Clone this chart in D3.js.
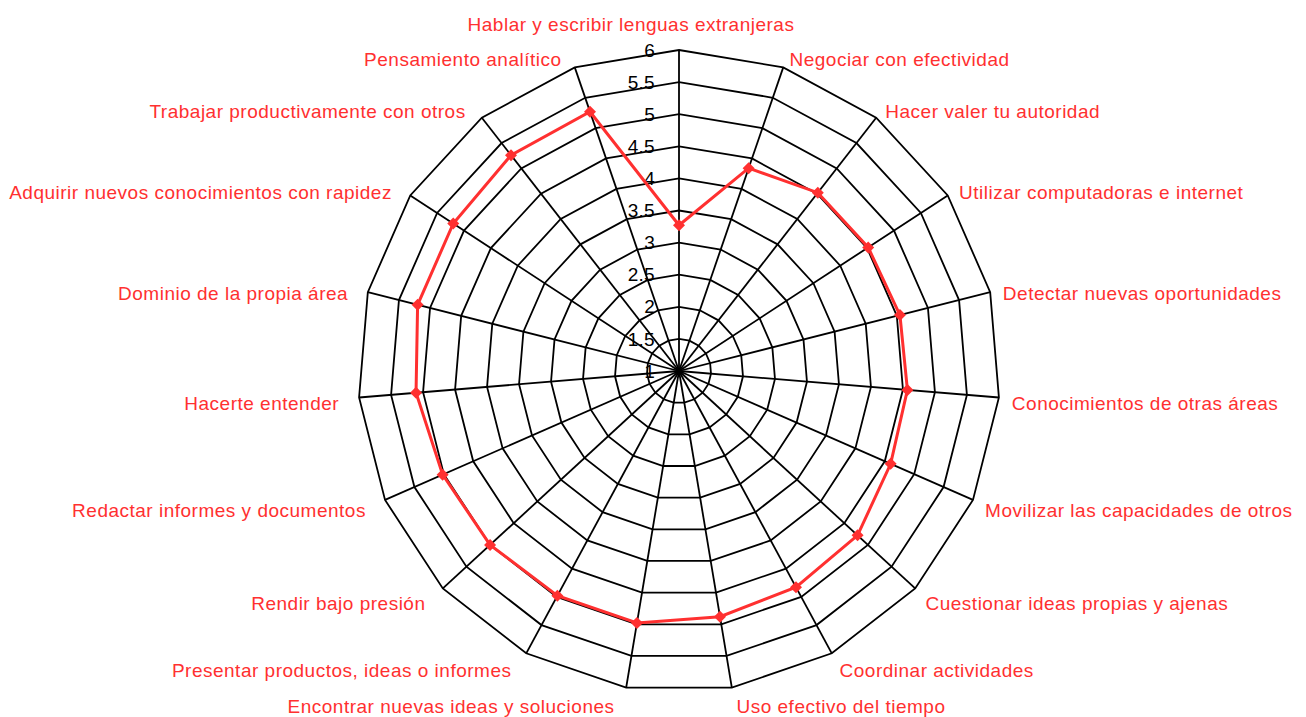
<!DOCTYPE html>
<html>
<head>
<meta charset="utf-8">
<script src="https://cdn.jsdelivr.net/npm/d3@7"></script>
<style>
  body { margin: 0; background: #fff; }
  svg { display: block; font-family: "Liberation Sans", Arial, Helvetica, sans-serif; }
</style>
</head>
<body>
<div class="chart"></div>
<script>
const skills = [
  "Hablar y escribir lenguas extranjeras",
  "Negociar con efectividad",
  "Hacer valer tu autoridad",
  "Utilizar computadoras e internet",
  "Detectar nuevas oportunidades",
  "Conocimientos de otras áreas",
  "Movilizar las capacidades de otros",
  "Cuestionar ideas propias y ajenas",
  "Coordinar actividades",
  "Uso efectivo del tiempo",
  "Encontrar nuevas ideas y soluciones",
  "Presentar productos, ideas o informes",
  "Rendir bajo presión",
  "Redactar informes y documentos",
  "Hacerte entender ",
  "Dominio de la propia área",
  "Adquirir nuevos conocimientos con rapidez",
  "Trabajar productivamente con otros",
  "Pensamiento analítico"
];
const scores = [3.27, 4.34, 4.52, 4.52, 4.55, 4.57, 4.6, 4.78, 4.83, 4.88,
                4.98, 4.98, 5.0, 5.02, 5.11, 5.2, 5.2, 5.26, 5.27];
const tickValues = [1, 1.5, 2, 2.5, 3, 3.5, 4, 4.5, 5, 5.5, 6];

const width = 1306, height = 717;
const cx = 679, cy = 371, radius = 321;
const red = "#ff3030";

const svg = d3.select(".chart").append("svg")
  .attr("width", width)
  .attr("height", height);

const r = d3.scaleLinear().domain([1, 6]).range([0, radius]);
const angle = d3.scaleLinear().domain([0, skills.length]).range([0, 2 * Math.PI]);

// point on axis i at value v
const pt = (i, v) => [Math.sin(angle(i)) * r(v), -Math.cos(angle(i)) * r(v)];

const g = svg.append("g").attr("transform", `translate(${cx},${cy})`);

// rings
g.selectAll(".ring")
  .data(tickValues.slice(1))
  .enter()
  .append("polygon")
  .attr("class", "ring")
  .attr("points", v => skills.map((s, i) => pt(i, v).join(",")).join(" "))
  .style("fill", "none")
  .style("stroke", "#000")
  .style("stroke-width", 1.8);

// spokes
g.selectAll(".spoke")
  .data(skills)
  .enter()
  .append("line")
  .attr("class", "spoke")
  .attr("x1", 0).attr("y1", 0)
  .attr("x2", (d, i) => pt(i, 6)[0])
  .attr("y2", (d, i) => pt(i, 6)[1])
  .style("stroke", "#000")
  .style("stroke-width", 1.8);

// tick labels
g.selectAll(".tick")
  .data(tickValues)
  .enter()
  .append("text")
  .attr("class", "tick")
  .attr("x", -24)
  .attr("y", v => -r(v))
  .attr("dy", "0.35em")
  .attr("text-anchor", "end")
  .style("font-size", "19px")
  .style("letter-spacing", "0.3px")
  .style("fill", "#000")
  .text(v => v);

// axis labels
g.selectAll(".label")
  .data(skills)
  .enter()
  .append("text")
  .attr("class", "label")
  .attr("x", (d, i) => {
    const s = Math.sin(angle(i));
    if (i === 0) return -48;
    return s > 0 ? s * (radius + 10) + 3 : s * (radius + 10) - 10;
  })
  .attr("y", (d, i) => {
    const c = Math.cos(angle(i));
    return i === 0 ? -radius - 26 : -c * (radius + 14) + 5;
  })
  .attr("dy", "0.35em")
  .attr("text-anchor", (d, i) => i === 0 ? "middle" : (Math.sin(angle(i)) > 0 ? "start" : "end"))
  .style("font-size", "19px")
  .style("letter-spacing", "0.5px")
  .style("fill", red)
  .text(d => d);

// data line
const line = d3.lineRadial()
  .angle((d, i) => angle(i))
  .radius(d => r(d))
  .curve(d3.curveLinearClosed);

g.append("path")
  .datum(scores)
  .attr("d", line)
  .style("fill", "none")
  .style("stroke", red)
  .style("stroke-width", 3);

g.selectAll(".dot")
  .data(scores)
  .enter()
  .append("path")
  .attr("class", "dot")
  .attr("d", d3.symbol().type(d3.symbolSquare).size(72))
  .attr("transform", (d, i) => `translate(${pt(i, d)}) rotate(45)`)
  .style("fill", red);
</script>
</body>
</html>
